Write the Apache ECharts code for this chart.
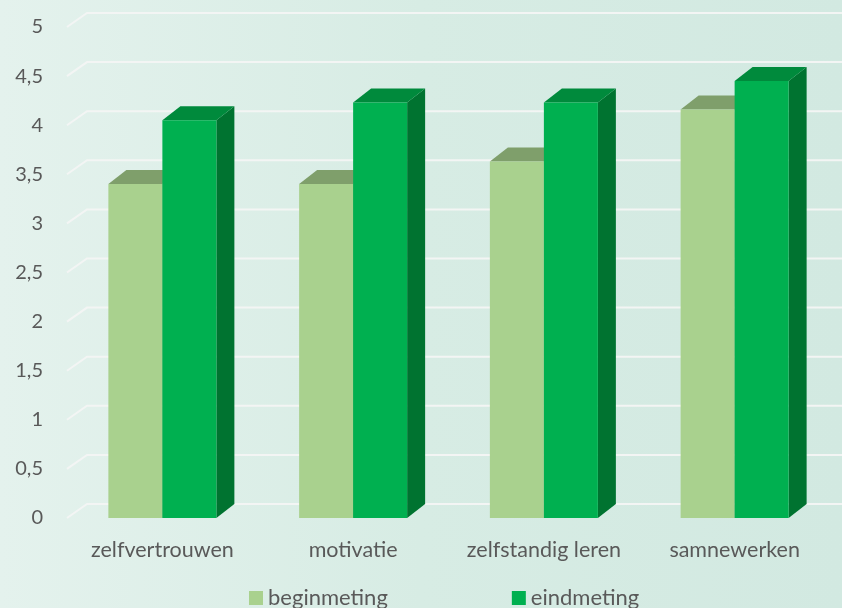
<!DOCTYPE html>
<html>
<head>
<meta charset="utf-8">
<script src="https://cdn.jsdelivr.net/npm/echarts@6/dist/echarts.min.js"></script>
<style>
  html, body { margin: 0; padding: 0; }
  #bar-chart { width: 842px; height: 608px; }
</style>
</head>
<body>
<div id="bar-chart"></div>
<script>
// categorieën en waarden
const categories = ["zelfvertrouwen", "motivatie", "zelfstandig leren", "samnewerken"];
const beginmeting = [3.4, 3.4, 3.63, 4.16];
const eindmeting = [4.05, 4.23, 4.23, 4.45];
const yTicks = [0, 0.5, 1, 1.5, 2, 2.5, 3, 3.5, 4, 4.5, 5];

// diepte-offset voor het 3D effect
const DX = 18, DY = 14;
const BAR_W = 54;

function bar3d(side, colors) {
  return function (params, api) {
    const idx = api.value(0);
    const top = api.coord([idx, api.value(1)]);
    const base = api.coord([idx, 0]);
    const x0 = side === "left" ? top[0] - BAR_W : top[0];
    const x1 = x0 + BAR_W;
    const yt = top[1], yb = base[1];
    return {
      type: "group",
      children: [
        {
          type: "polygon",
          shape: { points: [[x1, yt], [x1 + DX, yt - DY], [x1 + DX, yb - DY], [x1, yb]] },
          style: { fill: colors.side }
        },
        {
          type: "polygon",
          shape: { points: [[x0, yt], [x0 + DX, yt - DY], [x1 + DX, yt - DY], [x1, yt]] },
          style: { fill: colors.top }
        },
        {
          type: "rect",
          shape: { x: x0, y: yt, width: BAR_W, height: yb - yt },
          style: { fill: colors.front }
        }
      ]
    };
  };
}

const chart = echarts.init(document.getElementById("bar-chart"));
const option = {
  backgroundColor: {
    type: "linear", x: 0, y: 0, x2: 1, y2: 0,
    colorStops: [
      { offset: 0, color: "#e4f2ed" },
      { offset: 0.5, color: "#d7ece4" },
      { offset: 1, color: "#d2e9e1" }
    ]
  },
  animation: false,
  textStyle: { fontFamily: "Lato" },
  grid: { left: 67, right: 12, top: 27, bottom: 90 },
  legend: {
    left: 244,
    top: 582,
    itemGap: 124,
    itemWidth: 14,
    itemHeight: 14,
    icon: "rect",
    textStyle: { color: "#595959", fontSize: 22, fontFamily: "Lato" },
    data: ["beginmeting", "eindmeting"]
  },
  xAxis: {
    type: "category",
    data: categories,
    axisLine: { show: false },
    axisTick: { show: false },
    axisLabel: {
      interval: 0,
      hideOverlap: false,
      color: "#595959",
      fontSize: 21.5,
      margin: 21,
      fontFamily: "Lato"
    }
  },
  yAxis: {
    type: "value",
    min: 0,
    max: 5,
    interval: 0.5,
    splitLine: { show: false },
    axisLabel: {
      color: "#595959",
      fontSize: 20,
      margin: 24,
      fontFamily: "Lato",
      formatter: v => String(v).replace(".", ",")
    }
  },
  series: [
    {
      // rasterlijnen op de achterwand
      type: "custom",
      silent: true,
      z: 1,
      data: yTicks.map(v => [0, v]),
      renderItem: (params, api) => {
        const cs = params.coordSys;
        const y = api.coord([0, api.value(1)])[1];
        return {
          type: "polyline",
          shape: { points: [[cs.x, y], [cs.x + 20, y - DY], [cs.x + cs.width + 60, y - DY]] },
          style: { stroke: "#f3f5f4", lineWidth: 2, fill: null }
        };
      }
    },
    {
      name: "beginmeting",
      type: "custom",
      z: 2,
      itemStyle: { color: "#a9d18e" },
      data: beginmeting.map((v, i) => [i, v]),
      renderItem: bar3d("left", { front: "#a9d18e", top: "#7f9f6b", side: "#7f9f6b" })
    },
    {
      name: "eindmeting",
      type: "custom",
      z: 3,
      itemStyle: { color: "#00b050" },
      data: eindmeting.map((v, i) => [i, v]),
      renderItem: bar3d("right", { front: "#00b050", top: "#008a3c", side: "#007330" })
    }
  ]
};
chart.setOption(option);
</script>
</body>
</html>
